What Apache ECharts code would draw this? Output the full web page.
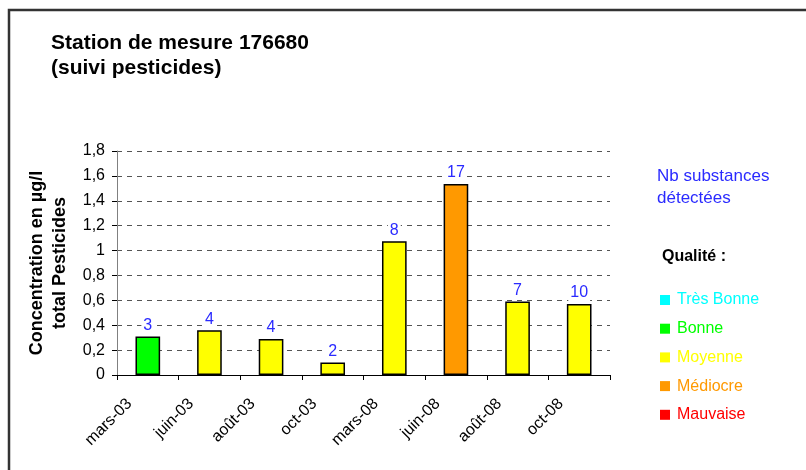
<!DOCTYPE html>
<html>
<head>
<meta charset="utf-8">
<script src="https://cdn.jsdelivr.net/npm/echarts@6/dist/echarts.min.js"></script>
<style>html,body{margin:0;padding:0;background:#fff;}#c{width:806px;height:470px;}</style>
</head>
<body>
<div id="c"></div>
<script>
var categories = ['mars-03','juin-03','août-03','oct-03','mars-08','juin-08','août-08','oct-08'];
var concentrations = [0.31, 0.36, 0.29, 0.10, 1.075, 1.535, 0.59, 0.57];
var substanceCounts = [3, 4, 4, 2, 8, 17, 7, 10];
var qualityOfSample = ['Bonne','Moyenne','Moyenne','Moyenne','Moyenne','Médiocre','Moyenne','Moyenne'];
var qualityClasses = ['Très Bonne','Bonne','Moyenne','Médiocre','Mauvaise'];
var qualityColors = ['#00ffff','#00ff00','#ffff00','#ff9900','#ff0000'];
var yTickLabels = ['0','0,2','0,4','0,6','0,8','1','1,2','1,4','1,6','1,8'];

var FONT = 'Liberation Sans, Arial, sans-serif';

var series = qualityClasses.map(function (q, qi) {
  return {
    name: q,
    type: 'bar',
    stack: 'conc',
    barWidth: '40%',
    itemStyle: {
      color: qualityColors[qi],
      borderColor: '#000',
      borderWidth: 1.5
    },
    label: {
      show: true,
      position: 'top',
      distance: 3,
      color: '#2a2aff',
      fontFamily: FONT,
      fontSize: 16,
      backgroundColor: '#fff',
      padding: [0, 2],
      textBorderWidth: 0,
      textShadowBlur: 0,
      formatter: function (p) { return String(substanceCounts[p.dataIndex]); }
    },
    labelLayout: {hideOverlap: false},
    data: concentrations.map(function (v, i) {
      return qualityOfSample[i] === q ? v : null;
    })
  };
});

var chart = echarts.init(document.getElementById('c'), null, {renderer: 'canvas'});
chart.setOption({
  animation: false,
  backgroundColor: '#fff',
  textStyle: {fontFamily: FONT},
  grid: {left: 117, top: 151, width: 493, height: 224, containLabel: false},
  legend: {
    orient: 'vertical',
    left: 660,
    top: 292,
    padding: 0,
    itemWidth: 10,
    itemHeight: 10,
    itemGap: 12.7,
    icon: 'rect',
    selectedMode: false,
    textStyle: {fontFamily: FONT, fontSize: 16, padding: [0, 0, 0, 2]},
    data: qualityClasses.map(function (q, qi) {
      return {name: q, itemStyle: {borderWidth: 0}, textStyle: {color: qualityColors[qi]}};
    })
  },
  xAxis: {
    type: 'category',
    data: categories,
    axisLine: {lineStyle: {color: '#000', width: 1}},
    axisTick: {show: true, length: 5, lineStyle: {color: '#000'}},
    axisLabel: {
      rotate: 45,
      margin: 8,
      color: '#000',
      fontFamily: FONT,
      fontSize: 16,
      padding: [0, 26, 0, 0],
      interval: 0
    }
  },
  yAxis: {
    type: 'value',
    min: 0,
    max: 1.8,
    interval: 0.2,
    name: 'Concentration en µg/l\ntotal Pesticides',
    nameLocation: 'middle',
    nameGap: 45,
    nameTextStyle: {fontFamily: FONT, fontSize: 18, fontWeight: 'bold', color: '#000', lineHeight: 23},
    axisLine: {show: true, lineStyle: {color: '#808080', width: 1}},
    axisTick: {show: true, length: 5, lineStyle: {color: '#000'}},
    axisLabel: {
      margin: 12,
      color: '#000',
      fontFamily: FONT,
      fontSize: 16,
      formatter: function (v) { return yTickLabels[Math.round(v / 0.2)]; }
    },
    splitLine: {show: true, lineStyle: {color: '#555', type: [5, 5], width: 1}}
  },
  graphic: [
    {type: 'rect', shape: {x: 9, y: 10, width: 900, height: 600}, style: {fill: 'none', stroke: '#333', lineWidth: 2.5}, silent: true},
    {type: 'text', left: 51, top: 31, style: {text: 'Station de mesure 176680\n(suivi pesticides)', font: 'bold 21px ' + FONT, fill: '#000', lineHeight: 25}},
    {type: 'text', left: 657, top: 165, style: {text: 'Nb substances\ndétectées', font: '17px ' + FONT, fill: '#2a2aff', lineHeight: 22}},
    {type: 'text', left: 662, top: 249, style: {text: 'Qualité :', font: 'bold 16px ' + FONT, fill: '#000'}}
  ],
  series: series
});
</script>
</body>
</html>
